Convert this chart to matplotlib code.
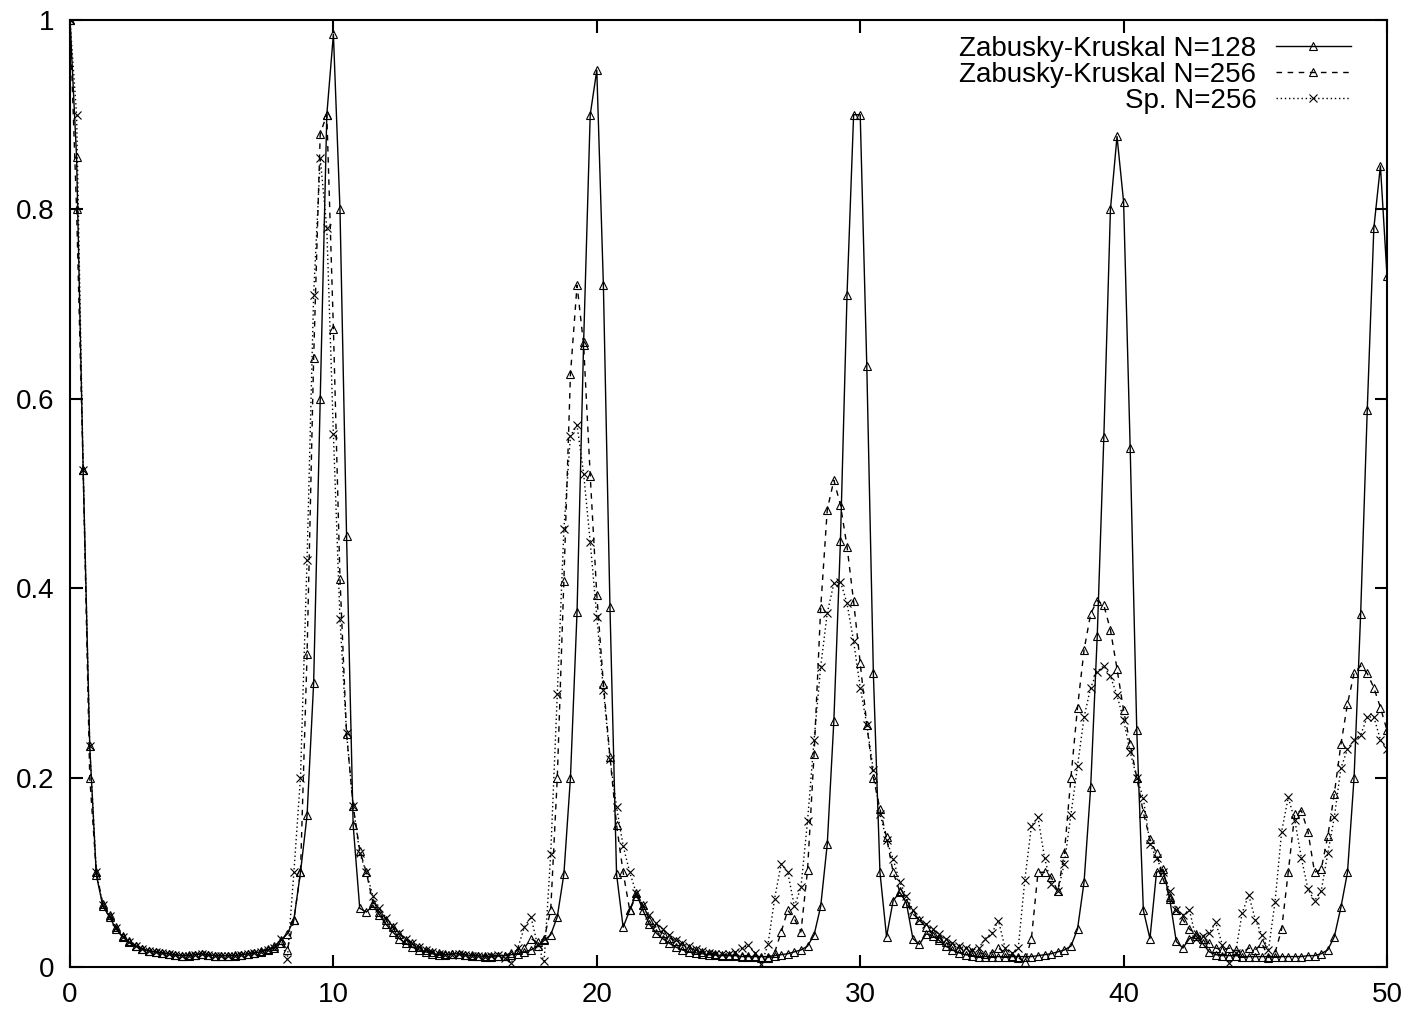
import numpy as np
import matplotlib
matplotlib.use("Agg")
import matplotlib.pyplot as plt

plt.rcParams['font.family'] = ['Liberation Sans', 'DejaVu Sans']

# time samples (step 0.25)
t = np.arange(201) * 0.25

zk128 = [
    1.0, 0.855, 0.525, 0.233, 0.097, 0.064, 0.053, 0.04, 0.032, 0.026, 0.022, 0.019, 0.017, 0.016, 0.015, 0.014, 0.013, 0.012, 0.012, 0.013,
    0.014, 0.013, 0.012, 0.012, 0.012, 0.012, 0.013, 0.014, 0.015, 0.016, 0.018, 0.022, 0.028, 0.035, 0.05, 0.1, 0.16, 0.3, 0.6, 0.9,
    0.985, 0.8, 0.455, 0.15, 0.062, 0.058, 0.065, 0.055, 0.045, 0.037, 0.03, 0.025, 0.021, 0.018, 0.016, 0.014, 0.013, 0.013, 0.014, 0.014,
    0.013, 0.012, 0.012, 0.011, 0.011, 0.012, 0.012, 0.013, 0.014, 0.016, 0.018, 0.022, 0.028, 0.034, 0.053, 0.098, 0.2, 0.375, 0.66, 0.9,
    0.947, 0.72, 0.38, 0.098, 0.042, 0.06, 0.078, 0.06, 0.045, 0.036, 0.03, 0.025, 0.021, 0.018, 0.016, 0.015, 0.014, 0.013, 0.013, 0.012,
    0.012, 0.012, 0.011, 0.011, 0.011, 0.011, 0.011, 0.012, 0.013, 0.014, 0.016, 0.018, 0.022, 0.034, 0.064, 0.13, 0.26, 0.45, 0.71, 0.9,
    0.9, 0.635, 0.31, 0.1, 0.032, 0.07, 0.079, 0.068, 0.03, 0.024, 0.035, 0.033, 0.028, 0.022, 0.018, 0.015, 0.013, 0.012, 0.011, 0.011,
    0.011, 0.011, 0.011, 0.011, 0.011, 0.011, 0.011, 0.012, 0.013, 0.014, 0.016, 0.018, 0.022, 0.04, 0.09, 0.19, 0.35, 0.56, 0.8, 0.877,
    0.808, 0.548, 0.25, 0.06, 0.03, 0.1, 0.103, 0.072, 0.027, 0.02, 0.03, 0.033, 0.025, 0.016, 0.013, 0.012, 0.012, 0.012, 0.011, 0.011,
    0.011, 0.011, 0.011, 0.011, 0.011, 0.011, 0.011, 0.011, 0.012, 0.012, 0.014, 0.018, 0.032, 0.063, 0.1, 0.2, 0.373, 0.588, 0.78, 0.846,
    0.73,
]

zk256 = [
    1.0, 0.8, 0.525, 0.2, 0.1, 0.066, 0.055, 0.042, 0.033, 0.027, 0.022, 0.019, 0.017, 0.016, 0.015, 0.014, 0.013, 0.012, 0.013, 0.013,
    0.014, 0.013, 0.012, 0.012, 0.012, 0.013, 0.013, 0.014, 0.015, 0.017, 0.019, 0.02, 0.025, 0.018, 0.05, 0.1, 0.33, 0.643, 0.88, 0.9,
    0.674, 0.41, 0.246, 0.17, 0.123, 0.1, 0.068, 0.058, 0.05, 0.042, 0.035, 0.029, 0.025, 0.021, 0.018, 0.016, 0.015, 0.014, 0.014, 0.014,
    0.013, 0.013, 0.012, 0.012, 0.012, 0.012, 0.012, 0.015, 0.018, 0.02, 0.03, 0.026, 0.03, 0.06, 0.2, 0.408, 0.626, 0.72, 0.657, 0.519,
    0.393, 0.299, 0.222, 0.15, 0.1, 0.06, 0.075, 0.065, 0.05, 0.042, 0.036, 0.031, 0.027, 0.023, 0.02, 0.018, 0.016, 0.015, 0.014, 0.013,
    0.013, 0.013, 0.012, 0.012, 0.012, 0.01, 0.01, 0.015, 0.037, 0.06, 0.051, 0.037, 0.102, 0.225, 0.379, 0.483, 0.514, 0.488, 0.444, 0.386,
    0.321, 0.256, 0.2, 0.167, 0.137, 0.1, 0.08, 0.068, 0.056, 0.05, 0.042, 0.036, 0.031, 0.026, 0.022, 0.02, 0.018, 0.016, 0.015, 0.014,
    0.015, 0.02, 0.015, 0.012, 0.01, 0.005, 0.03, 0.1, 0.1, 0.095, 0.08, 0.12, 0.2, 0.274, 0.335, 0.373, 0.387, 0.382, 0.356, 0.315,
    0.271, 0.235, 0.2, 0.163, 0.135, 0.12, 0.093, 0.074, 0.06, 0.05, 0.04, 0.035, 0.03, 0.025, 0.02, 0.018, 0.02, 0.018, 0.015, 0.02,
    0.018, 0.025, 0.01, 0.015, 0.04, 0.1, 0.162, 0.165, 0.143, 0.1, 0.103, 0.138, 0.183, 0.235, 0.278, 0.31, 0.318, 0.31, 0.295, 0.274,
    0.25,
]

sp256 = [
    1.0, 0.9, 0.525, 0.233, 0.1, 0.065, 0.054, 0.041, 0.032, 0.026, 0.022, 0.019, 0.017, 0.016, 0.015, 0.014, 0.013, 0.012, 0.012, 0.013,
    0.014, 0.013, 0.012, 0.012, 0.012, 0.012, 0.013, 0.014, 0.015, 0.016, 0.018, 0.02, 0.03, 0.008, 0.1, 0.2, 0.43, 0.71, 0.854, 0.78,
    0.563, 0.367, 0.247, 0.17, 0.12, 0.1, 0.075, 0.062, 0.052, 0.043, 0.036, 0.03, 0.025, 0.021, 0.018, 0.016, 0.014, 0.013, 0.013, 0.014,
    0.013, 0.012, 0.012, 0.011, 0.012, 0.013, 0.01, 0.004, 0.02, 0.042, 0.053, 0.023, 0.006, 0.119, 0.288, 0.462, 0.561, 0.572, 0.521, 0.449,
    0.37, 0.293, 0.22, 0.169, 0.128, 0.1, 0.078, 0.065, 0.055, 0.046, 0.04, 0.034, 0.029, 0.025, 0.022, 0.019, 0.017, 0.015, 0.014, 0.014,
    0.014, 0.016, 0.02, 0.023, 0.015, 0.003, 0.024, 0.072, 0.109, 0.1, 0.064, 0.084, 0.154, 0.24, 0.317, 0.374, 0.405, 0.407, 0.384, 0.344,
    0.295, 0.256, 0.208, 0.162, 0.134, 0.114, 0.09, 0.075, 0.06, 0.05, 0.045, 0.04, 0.035, 0.03, 0.025, 0.022, 0.02, 0.018, 0.02, 0.03,
    0.036, 0.049, 0.02, 0.015, 0.02, 0.092, 0.149, 0.158, 0.115, 0.088, 0.08, 0.109, 0.161, 0.212, 0.264, 0.295, 0.312, 0.318, 0.307, 0.287,
    0.261, 0.227, 0.2, 0.178, 0.13, 0.115, 0.1, 0.08, 0.06, 0.055, 0.06, 0.03, 0.033, 0.036, 0.047, 0.023, 0.004, 0.015, 0.057, 0.076,
    0.05, 0.034, 0.018, 0.069, 0.143, 0.179, 0.155, 0.115, 0.082, 0.07, 0.08, 0.12, 0.158, 0.21, 0.23, 0.24, 0.245, 0.264, 0.264, 0.24,
    0.23,
]

labels = ['Zabusky-Kruskal N=128', 'Zabusky-Kruskal N=256', 'Sp. N=256']
xticks = [0, 10, 20, 30, 40, 50]
yticks = [0, 0.2, 0.4, 0.6, 0.8, 1]
ytick_labels = ['0', '0.2', '0.4', '0.6', '0.8', '1']

fig = plt.figure(figsize=(14.12, 10.13), dpi=100)
ax = fig.add_axes([70/1412, 1 - 967/1013, (1387-70)/1412, (967-20)/1013])

ax.plot(t, zk128, '-', color='black', lw=1.0, marker='^', ms=5.5,
        mfc='none', mec='black', mew=0.8, label=labels[0])
ax.plot(t, zk256, color='black', lw=1.0, ls=(0, (4, 4)), marker='^', ms=5.5,
        mfc='none', mec='black', mew=0.8, label=labels[1])
ax.plot(t, sp256, color='black', lw=1.0, ls=(0, (1, 2)), marker='x', ms=5.5,
        mec='black', mew=0.8, label=labels[2])

ax.set_xlim(0, 50)
ax.set_ylim(0, 1)
ax.set_xticks(xticks)
ax.set_xticklabels([str(x) for x in xticks])
ax.set_yticks(yticks)
ax.set_yticklabels(ytick_labels)
ax.tick_params(direction='in', length=9, width=1.5, labelsize=20,
               top=True, right=True, pad=11)
for s in ax.spines.values():
    s.set_linewidth(1.5)

ax.legend(loc='upper right', bbox_to_anchor=(1.0, 1.0 + 20/947),
          frameon=False, markerfirst=False, fontsize=20,
          handlelength=2.7, handletextpad=0.7, labelspacing=0.0,
          borderaxespad=0.9, borderpad=0.4)

fig.savefig('out.png', dpi=100)
